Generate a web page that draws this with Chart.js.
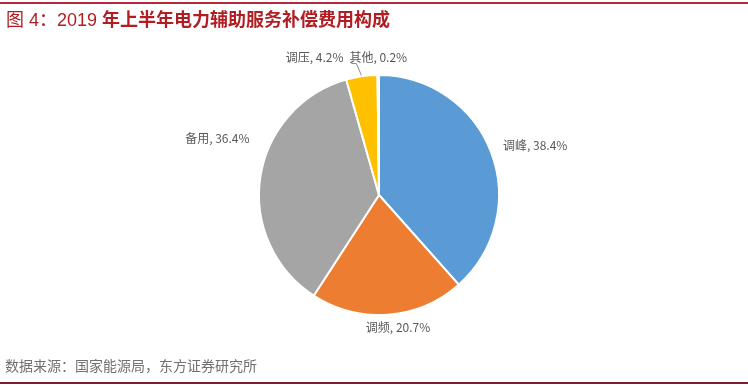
<!DOCTYPE html>
<html>
<head>
<meta charset="utf-8">
<script src="https://cdn.jsdelivr.net/npm/chart.js@4"></script>
<style>
  html, body { margin: 0; padding: 0; background: #fff; }
  #wrap { position: relative; width: 748px; height: 386px; overflow: hidden; background: #fff; }
  #topline { position: absolute; left: 0; top: 2px; width: 748px; height: 2px; background: #b8283a; }
  #botline { position: absolute; left: 0; top: 382px; width: 748px; height: 2px; background: #7a1e2e; }
  #title { position: absolute; left: 6px; top: 8px; font-family: "Liberation Sans", "Noto Sans CJK SC", sans-serif; font-size: 18px; line-height: 24px; color: #b01e23; white-space: nowrap; }
  #title .n { font-weight: normal; }
  #title .b { font-weight: bold; }
  #source { position: absolute; left: 5px; top: 355px; font-family: "Noto Sans CJK SC", sans-serif; font-size: 14px; line-height: 20px; color: #707070; white-space: nowrap; }
  canvas { position: absolute; left: 0; top: 0; }
</style>
</head>
<body>
<div id="wrap">
  <canvas id="c" width="748" height="386"></canvas>
  <div id="topline"></div>
  <div id="title"><span class="n">图 4：2019 </span><span class="b">年上半年电力辅助服务补偿费用构成</span></div>
  <div id="source">数据来源：国家能源局，东方证券研究所</div>
  <div id="botline"></div>
</div>
<script>
const categories = ['调峰', '调频', '备用', '调压', '其他'];
const shares = [38.4, 20.7, 36.4, 4.2, 0.2];

const sliceColors = ['#5b9bd5', '#ed7d31', '#a5a5a5', '#ffc000', '#4472c4'];
// label offsets from each slice's outer mid point (px)
const labelOffsets = [[44, -7], [10, 13], [-43, -39], [-47, -19], [0, -18]];

const labelPlugin = {
  id: 'sliceLabels',
  afterDatasetsDraw(chart) {
    const ctx = chart.ctx;
    const meta = chart.getDatasetMeta(0);
    ctx.save();
    ctx.font = '12px "Noto Sans CJK SC", sans-serif';
    ctx.fillStyle = '#595959';
    ctx.textAlign = 'center';
    ctx.textBaseline = 'middle';
    meta.data.forEach((arc, i) => {
      const p = arc.getProps(['x', 'y', 'startAngle', 'endAngle', 'outerRadius'], true);
      const mid = (p.startAngle + p.endAngle) / 2;
      const ox = p.x + Math.cos(mid) * p.outerRadius;
      const oy = p.y + Math.sin(mid) * p.outerRadius;
      const lx = ox + labelOffsets[i][0];
      const ly = oy + labelOffsets[i][1];
      const text = categories[i] + ', ' + shares[i] + '%';
      ctx.fillText(text, lx, ly);
      if (i === 4) {
        const w = ctx.measureText(text).width;
        const left = lx - w / 2;
        const a = mid - 0.14;
        const tx = p.x + Math.cos(a) * (p.outerRadius + 1);
        const ty = p.y + Math.sin(a) * (p.outerRadius + 1);
        ctx.strokeStyle = '#8c8c8c';
        ctx.lineWidth = 1;
        ctx.beginPath();
        ctx.moveTo(left + 2, ly + 6.5);
        ctx.lineTo(left + 7, ly + 6.5);
        ctx.lineTo(tx, ty);
        ctx.stroke();
      }
    });
    ctx.restore();
  }
};

new Chart(document.getElementById('c'), {
  type: 'pie',
  data: {
    labels: categories,
    datasets: [{
      data: shares,
      backgroundColor: sliceColors,
      borderColor: '#ffffff',
      borderWidth: 2
    }]
  },
  options: {
    responsive: false,
    animation: false,
    layout: { padding: { left: 10, right: 0, top: 74, bottom: 70 } },
    plugins: {
      legend: { display: false },
      tooltip: { enabled: false },
      title: { display: false }
    }
  },
  plugins: [labelPlugin]
});
</script>
</body>
</html>
